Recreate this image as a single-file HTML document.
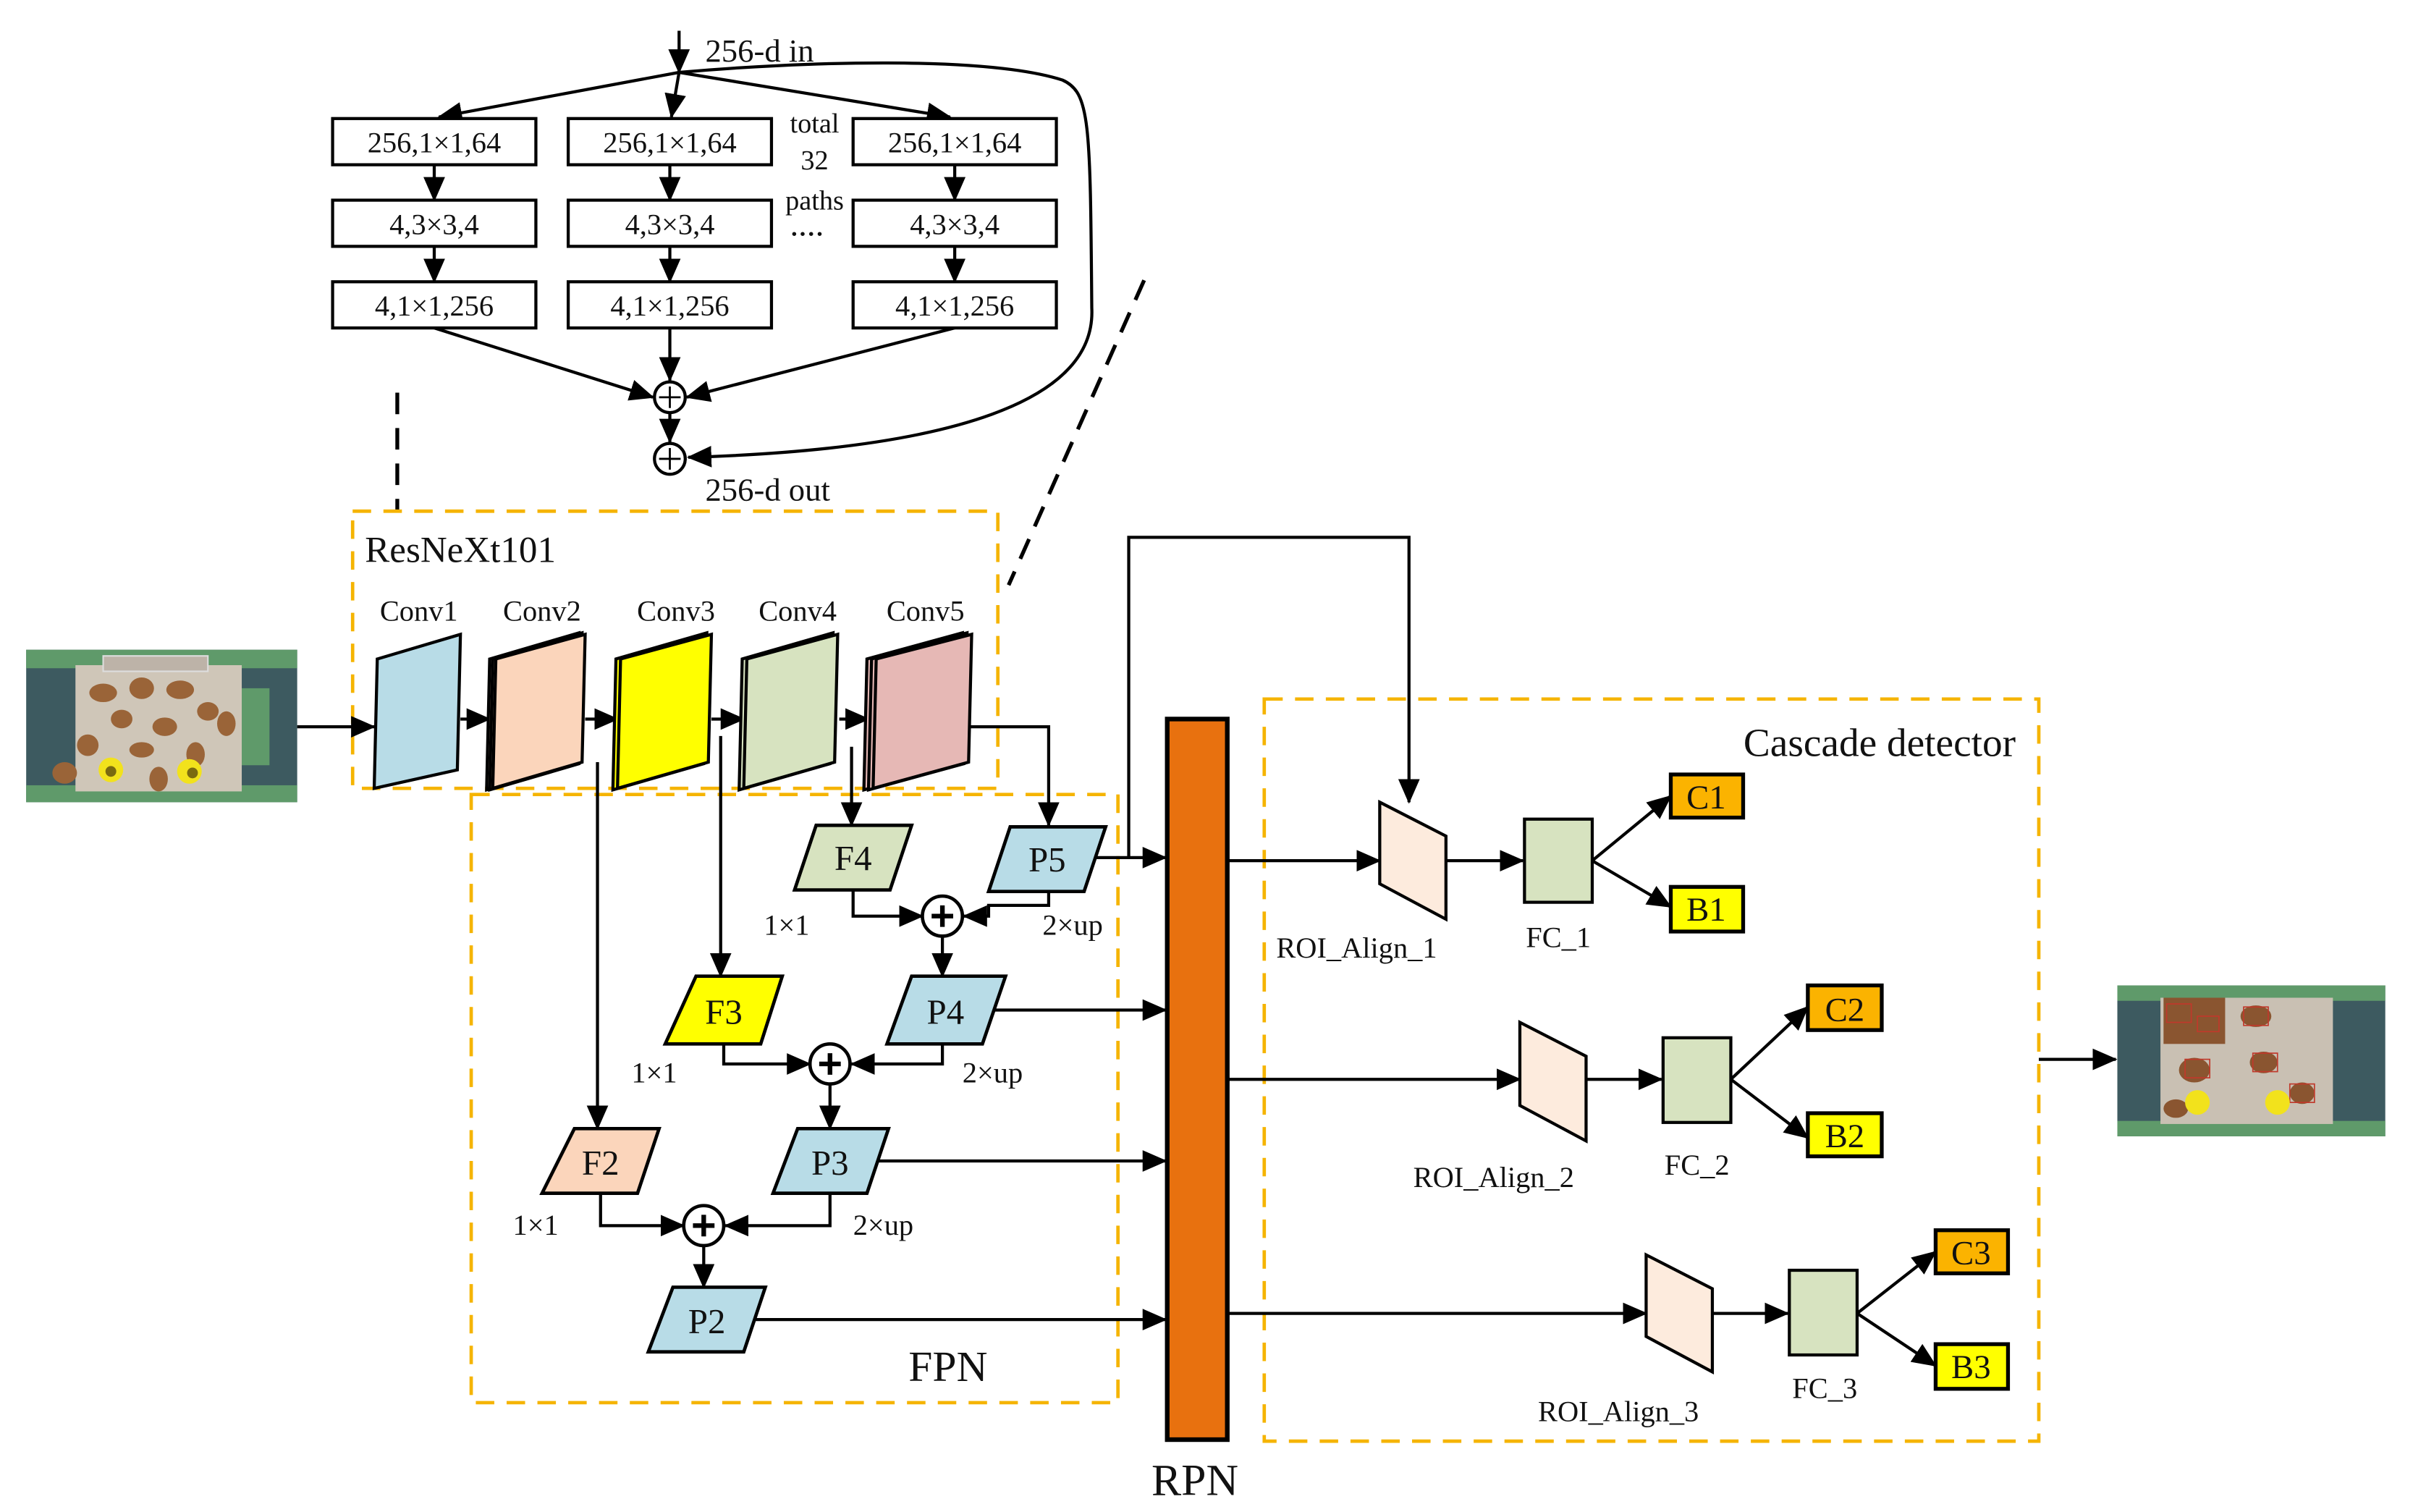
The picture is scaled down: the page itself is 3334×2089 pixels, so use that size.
<!DOCTYPE html>
<html><head><meta charset="utf-8"><style>html,body{margin:0;padding:0;background:#fff}svg{display:block}</style></head><body>
<svg width="3334" height="2089" viewBox="0 0 1567 982" preserveAspectRatio="none" xmlns="http://www.w3.org/2000/svg" font-family="Liberation Serif, serif">
<defs>
<marker id="a" markerUnits="userSpaceOnUse" markerWidth="16" markerHeight="14" refX="15" refY="7" orient="auto"><path d="M0,0 L16,7 L0,14 z" fill="#000"/></marker>
<g id="img">
<rect x="0" y="0" width="176" height="99" fill="#3d5a60"/>
<rect x="0" y="0" width="176" height="12" fill="#5f9a6a"/>
<rect x="0" y="88" width="176" height="11" fill="#5f9a6a"/>
<rect x="140" y="25" width="18" height="50" fill="#5f9a6a"/>
<rect x="32" y="10" width="108" height="82" fill="#cfc6b8"/>
<rect x="50" y="4" width="68" height="10" fill="#bdb3a8" stroke="#ddd" stroke-width="1"/>
<g fill="#9a6438">
<ellipse cx="50" cy="28" rx="9" ry="6"/><ellipse cx="75" cy="25" rx="8" ry="7"/><ellipse cx="100" cy="26" rx="9" ry="6"/><ellipse cx="118" cy="40" rx="7" ry="6"/><ellipse cx="62" cy="45" rx="7" ry="6"/><ellipse cx="90" cy="50" rx="8" ry="6"/><ellipse cx="40" cy="62" rx="7" ry="7"/><ellipse cx="75" cy="65" rx="8" ry="5"/><ellipse cx="110" cy="68" rx="6" ry="8"/><ellipse cx="25" cy="80" rx="8" ry="7"/><ellipse cx="86" cy="84" rx="6" ry="8"/><ellipse cx="130" cy="48" rx="6" ry="8"/>
</g>
<circle cx="55" cy="78" r="8" fill="#f2e21c"/><circle cx="55" cy="79" r="3.5" fill="#7a6a10"/>
<circle cx="106" cy="79" r="8" fill="#f2e21c"/><circle cx="108" cy="80" r="3.5" fill="#7a6a10"/>
</g>
</defs>

<g stroke="#000" stroke-width="2" fill="none">
<line x1="441" y1="20" x2="441" y2="47" marker-end="url(#a)"/>
<line x1="441" y1="47" x2="285" y2="76" marker-end="url(#a)"/>
<line x1="441" y1="47" x2="436" y2="76" marker-end="url(#a)"/>
<line x1="441" y1="47" x2="617" y2="76" marker-end="url(#a)"/>
<path d="M441,47 C520,40 640,36 690,52 C708,60 708,80 709,200 C712,260 620,292 447,297" marker-end="url(#a)"/>
<line x1="282" y1="107" x2="282" y2="130" marker-end="url(#a)"/>
<line x1="282" y1="160" x2="282" y2="183" marker-end="url(#a)"/>
<line x1="435" y1="107" x2="435" y2="130" marker-end="url(#a)"/>
<line x1="435" y1="160" x2="435" y2="183" marker-end="url(#a)"/>
<line x1="620" y1="107" x2="620" y2="130" marker-end="url(#a)"/>
<line x1="620" y1="160" x2="620" y2="183" marker-end="url(#a)"/>
<line x1="282" y1="213" x2="424" y2="258" marker-end="url(#a)"/>
<line x1="435" y1="213" x2="435" y2="247" marker-end="url(#a)"/>
<line x1="620" y1="213" x2="446" y2="258" marker-end="url(#a)"/>
<line x1="435" y1="268" x2="435" y2="287" marker-end="url(#a)"/>
</g>
<g stroke="#000" stroke-width="2" fill="#fff">
<rect x="216" y="77" width="132" height="30"/><rect x="369" y="77" width="132" height="30"/><rect x="554" y="77" width="132" height="30"/>
<rect x="216" y="130" width="132" height="30"/><rect x="369" y="130" width="132" height="30"/><rect x="554" y="130" width="132" height="30"/>
<rect x="216" y="183" width="132" height="30"/><rect x="369" y="183" width="132" height="30"/><rect x="554" y="183" width="132" height="30"/>
<circle cx="435" cy="258" r="10"/><circle cx="435" cy="298" r="10"/>
</g>
<g stroke="#000" stroke-width="1.3"><path d="M428,258 h14 M435,251 v14 M428,298 h14 M435,291 v14"/></g>
<g font-size="19" text-anchor="middle" fill="#111">
<text x="282" y="99">256,1×1,64</text><text x="435" y="99">256,1×1,64</text><text x="620" y="99">256,1×1,64</text>
<text x="282" y="152">4,3×3,4</text><text x="435" y="152">4,3×3,4</text><text x="620" y="152">4,3×3,4</text>
<text x="282" y="205">4,1×1,256</text><text x="435" y="205">4,1×1,256</text><text x="620" y="205">4,1×1,256</text>
<text x="529" y="86" font-size="18">total</text><text x="529" y="110" font-size="18">32</text><text x="529" y="136" font-size="18">paths</text>
<text x="524" y="153" font-size="22">....</text>
</g>
<text x="458" y="40" font-size="21" fill="#111">256-d in</text>
<text x="458" y="325" font-size="21" fill="#111">256-d out</text>
<g stroke="#000" stroke-width="2.5" stroke-dasharray="14,9" fill="none">
<line x1="258" y1="255" x2="258" y2="332"/>
<line x1="743" y1="182" x2="655" y2="380"/>
</g>

<g stroke="#f5b400" stroke-width="2.2" stroke-dasharray="12,8" fill="none">
<rect x="229" y="332" width="419" height="180"/>
<rect x="306" y="516" width="420" height="395"/>
<rect x="821" y="454" width="503" height="482"/>
</g>
<text x="237" y="365" font-size="24" fill="#111">ResNeXt101</text>
<g font-size="19" text-anchor="middle" fill="#111">
<text x="272" y="403">Conv1</text><text x="352" y="403">Conv2</text><text x="439" y="403">Conv3</text><text x="518" y="403">Conv4</text><text x="601" y="403">Conv5</text>
</g>

<use href="#img" x="17" y="422"/>
<g stroke="#000" stroke-width="2" fill="none">
<line x1="193" y1="472" x2="243" y2="472" marker-end="url(#a)"/>
<line x1="299" y1="467" x2="318" y2="467" marker-end="url(#a)"/>
<line x1="380" y1="467" x2="401" y2="467" marker-end="url(#a)"/>
<line x1="462" y1="467" x2="483" y2="467" marker-end="url(#a)"/>
<line x1="545" y1="467" x2="564" y2="467" marker-end="url(#a)"/>
</g>
<g stroke="#000" stroke-width="2">
<polygon points="245,428 299,412 297,500 243,512" fill="#b8dce7"/>
<polygon points="318,428 376,411 374,496 316,513" fill="#fbd5bb"/>
<polygon points="320,428 378,411 376,496 318,513" fill="#fbd5bb"/>
<polygon points="322,428 380,412 378,495 320,512" fill="#fbd5bb"/>
<polygon points="400,428 459,411 457,496 398,513" fill="#ffff00"/>
<polygon points="403,428 462,412 460,495 401,512" fill="#ffff00"/>
<polygon points="482,428 541,411 539,496 480,513" fill="#d7e3c0"/>
<polygon points="485,428 544,412 542,495 483,512" fill="#d7e3c0"/>
<polygon points="563,428 625,411 623,496 561,513" fill="#e6b8b5"/>
<polygon points="566,428 628,411 626,496 564,513" fill="#e6b8b5"/>
<polygon points="569,428 631,412 629,495 567,512" fill="#e6b8b5"/>
</g>

<g stroke="#000" stroke-width="2" fill="none">
<line x1="388" y1="495" x2="388" y2="733" marker-end="url(#a)"/>
<line x1="468" y1="478" x2="468" y2="634" marker-end="url(#a)"/>
<line x1="553" y1="485" x2="553" y2="536" marker-end="url(#a)"/>
<polyline points="630,472 681,472 681,536" marker-end="url(#a)"/>
<polyline points="554,578 554,595 599,595" marker-end="url(#a)"/>
<polyline points="681,579 681,588 642,588 642,595 626,595" marker-end="url(#a)"/>
<line x1="612" y1="608" x2="612" y2="634" marker-end="url(#a)"/>
<polyline points="470,678 470,691 526,691" marker-end="url(#a)"/>
<polyline points="612,678 612,691 553,691" marker-end="url(#a)"/>
<line x1="539" y1="704" x2="539" y2="733" marker-end="url(#a)"/>
<polyline points="390,775 390,796 444,796" marker-end="url(#a)"/>
<polyline points="539,775 539,796 471,796" marker-end="url(#a)"/>
<line x1="457" y1="809" x2="457" y2="836" marker-end="url(#a)"/>
<line x1="712" y1="557" x2="757" y2="557" marker-end="url(#a)"/>
<line x1="645" y1="656" x2="757" y2="656" marker-end="url(#a)"/>
<line x1="570" y1="754" x2="757" y2="754" marker-end="url(#a)"/>
<line x1="488" y1="857" x2="757" y2="857" marker-end="url(#a)"/>
<polyline points="733,557 733,349 915,349 915,521" marker-end="url(#a)"/>
</g>
<g stroke="#000" stroke-width="2.2">
<polygon points="530,536 592,536 578,578 516,578" fill="#d7e3c0"/>
<polygon points="656,537 718,537 704,579 642,579" fill="#b8dce7"/>
<polygon points="452,634 508,634 494,678 432,678" fill="#ffff00"/>
<polygon points="592,634 653,634 638,678 576,678" fill="#b8dce7"/>
<polygon points="373,733 428,733 414,775 352,775" fill="#fbd5bb"/>
<polygon points="518,733 577,733 563,775 502,775" fill="#b8dce7"/>
<polygon points="437,836 497,836 483,878 421,878" fill="#b8dce7"/>
<circle cx="612" cy="595" r="13" fill="#fff"/><circle cx="539" cy="691" r="13" fill="#fff"/><circle cx="457" cy="796" r="13" fill="#fff"/>
</g>
<g stroke="#000" stroke-width="3"><path d="M605,595 h14 M612,588 v14 M532,691 h14 M539,684 v14 M450,796 h14 M457,789 v14"/></g>
<g font-size="23" text-anchor="middle" fill="#111">
<text x="554" y="565">F4</text><text x="680" y="566">P5</text><text x="470" y="665">F3</text><text x="614" y="665">P4</text>
<text x="390" y="763">F2</text><text x="539" y="763">P3</text><text x="459" y="866">P2</text>
</g>
<g font-size="19" fill="#111">
<text x="496" y="607">1×1</text><text x="677" y="607">2×up</text>
<text x="410" y="703">1×1</text><text x="625" y="703">2×up</text>
<text x="333" y="802">1×1</text><text x="554" y="802">2×up</text>
</g>
<text x="590" y="897" font-size="28" fill="#111">FPN</text>

<rect x="758" y="467" width="39" height="468" fill="#e8710f" stroke="#000" stroke-width="3"/>
<text x="776" y="971" font-size="29" text-anchor="middle" fill="#111">RPN</text>

<text x="1309" y="491" font-size="26" text-anchor="end" fill="#111">Cascade detector</text>
<g stroke="#000" stroke-width="2" fill="none">
<line x1="797" y1="559" x2="896" y2="559" marker-end="url(#a)"/>
<line x1="939" y1="559" x2="989" y2="559" marker-end="url(#a)"/>
<line x1="1034" y1="559" x2="1085" y2="517" marker-end="url(#a)"/>
<line x1="1034" y1="559" x2="1085" y2="589" marker-end="url(#a)"/>
<line x1="797" y1="701" x2="987" y2="701" marker-end="url(#a)"/>
<line x1="1030" y1="701" x2="1079" y2="701" marker-end="url(#a)"/>
<line x1="1124" y1="701" x2="1174" y2="654" marker-end="url(#a)"/>
<line x1="1124" y1="701" x2="1174" y2="739" marker-end="url(#a)"/>
<line x1="797" y1="853" x2="1069" y2="853" marker-end="url(#a)"/>
<line x1="1112" y1="853" x2="1161" y2="853" marker-end="url(#a)"/>
<line x1="1206" y1="853" x2="1257" y2="813" marker-end="url(#a)"/>
<line x1="1206" y1="853" x2="1257" y2="887" marker-end="url(#a)"/>
<line x1="1324" y1="688" x2="1374" y2="688" marker-end="url(#a)"/>
</g>
<g stroke="#000" stroke-width="2">
<polygon points="896,521 939,543 939,597 896,574" fill="#fdebdd"/>
<polygon points="987,664 1030,686 1030,741 987,718" fill="#fdebdd"/>
<polygon points="1069,815 1112,837 1112,891 1069,868" fill="#fdebdd"/>
<rect x="990" y="532" width="44" height="54" fill="#d7e3c0"/>
<rect x="1080" y="674" width="44" height="55" fill="#d7e3c0"/>
<rect x="1162" y="825" width="44" height="55" fill="#d7e3c0"/>
</g>
<g stroke="#000" stroke-width="2.5">
<rect x="1085" y="503" width="47" height="28" fill="#fbb300"/>
<rect x="1085" y="576" width="47" height="29" fill="#ffff00"/>
<rect x="1174" y="640" width="48" height="29" fill="#fbb300"/>
<rect x="1174" y="723" width="48" height="28" fill="#ffff00"/>
<rect x="1257" y="799" width="47" height="28" fill="#fbb300"/>
<rect x="1257" y="873" width="47" height="29" fill="#ffff00"/>
</g>
<g font-size="22" text-anchor="middle" fill="#111">
<text x="1108" y="525">C1</text><text x="1108" y="598">B1</text>
<text x="1198" y="663">C2</text><text x="1198" y="745">B2</text>
<text x="1280" y="821">C3</text><text x="1280" y="895">B3</text>
</g>
<g font-size="19" text-anchor="middle" fill="#111">
<text x="881" y="622">ROI_Align_1</text><text x="1012" y="615">FC_1</text>
<text x="970" y="771">ROI_Align_2</text><text x="1102" y="763">FC_2</text>
<text x="1051" y="923">ROI_Align_3</text><text x="1185" y="908">FC_3</text>
</g>
<g transform="translate(1375,640)">
<rect width="174" height="98" fill="#3d5a60"/>
<rect width="174" height="10" fill="#5f9a6a"/><rect y="88" width="174" height="10" fill="#5f9a6a"/>
<rect x="28" y="8" width="112" height="82" fill="#c9c0b3"/>
<g fill="#8a5530"><rect x="30" y="8" width="40" height="30"/><ellipse cx="90" cy="20" rx="10" ry="7"/><ellipse cx="50" cy="55" rx="10" ry="8"/><ellipse cx="95" cy="50" rx="9" ry="7"/><ellipse cx="120" cy="70" rx="8" ry="7"/><ellipse cx="38" cy="80" rx="8" ry="6"/></g>
<g stroke="#c0392b" stroke-width="0.8" fill="none"><rect x="32" y="12" width="16" height="12"/><rect x="52" y="20" width="14" height="10"/><rect x="82" y="14" width="16" height="12"/><rect x="44" y="48" width="16" height="12"/><rect x="88" y="44" width="16" height="12"/><rect x="112" y="64" width="16" height="12"/></g>
<circle cx="52" cy="76" r="8" fill="#f2e21c"/><circle cx="104" cy="76" r="8" fill="#f2e21c"/>
</g>
</svg>
</body></html>
